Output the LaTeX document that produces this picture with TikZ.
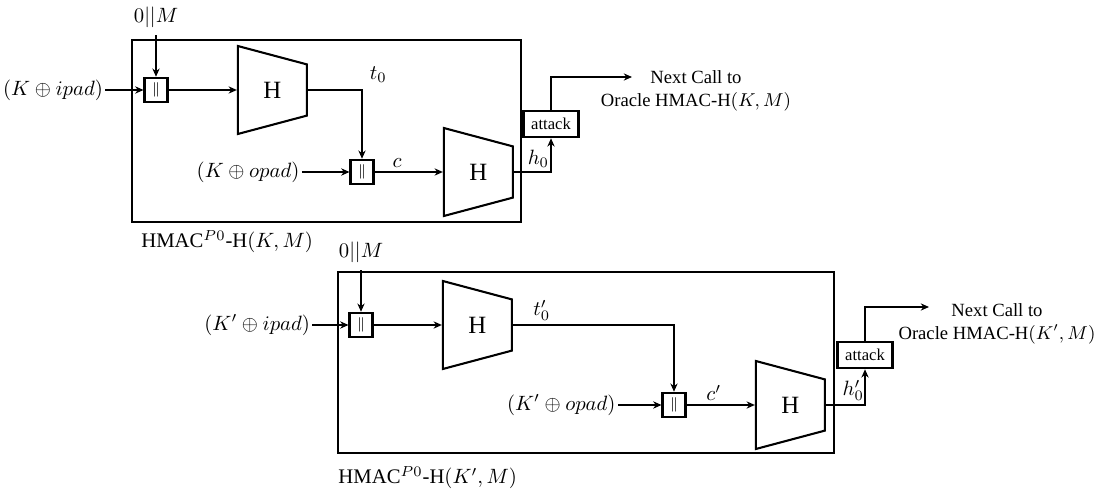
\documentclass[tikz,border=0pt]{standalone}
\usepackage{fontspec}
\setmainfont{Liberation Serif}
\usepackage{amsmath}
\usepackage{tikz}
\usetikzlibrary{
  arrows.meta,
  positioning,
  shapes.geometric
}
\tikzset{
  hashFn/.style={
    trapezium,
    shape border rotate=270,
    trapezium stretches=true,
    trapezium angle=72,
    draw,
    line width=1pt,
    minimum width=42.5pt,
    minimum height=33.3pt,
    inner sep=0pt,
    font=\large
  },
  concatBox/.style={
    rectangle,
    draw,
    very thick,
    minimum width=10.9pt,
    minimum height=11.6pt,
    inner sep=0pt,
    font=\scriptsize
  },
  attackBox/.style={
    rectangle,
    draw,
    very thick,
    minimum width=26.6pt,
    minimum height=12.6pt,
    inner sep=1pt,
    font=\footnotesize
  },
  frameBox/.style={
    rectangle,
    draw,
    line width=1pt
  },
  keyInput/.style={
    inner sep=1pt
  },
  wireLabel/.style={
    inner sep=1.5pt
  },
  flowArrow/.style={
    -{Stealth[length=4pt,width=3.5pt]},
    line width=0.9pt
  }
}

\begin{document}
\begin{tikzpicture}[x=0.483pt, y=-0.483pt, node distance=33pt]
  \useasboundingbox (0,0) rectangle (1101,494);

  % first call
  \node[frameBox, minimum width=187.9pt, minimum height=87.9pt]
    (frame1) at (326.5,131) {};
  \node[concatBox] (cat1) at (156,90) {$\|$};
  \node[hashFn, right=of cat1] (hash1) {H};
  \node[keyInput, left=18.4pt of cat1] (kipad1) {$(K \oplus ipad)$};
  \node[above=20pt of cat1] (msg1) {$0||M$};

  \node[concatBox] (cat2) at (362,172) {$\|$};
  \node[keyInput, left=23pt of cat2] (kopad1) {$(K \oplus opad)$};
  \node[hashFn, right=of cat2] (hash2) {H};

  \node[attackBox] (atk1) at (551,124) {attack};
  \coordinate (out1) at (632,77);
  \node[align=center, font=\small] (next1) at (696,91)
    {Next Call to\\Oracle HMAC-H$(K,M)$};
  \node[below right=0pt and 1.5pt of frame1.south west]
    (name1) {HMAC$^{P0}$-H$(K,M)$};

  \draw[flowArrow] (kipad1) -- (cat1);
  \draw[flowArrow] (msg1) -- (cat1);
  \draw[flowArrow] (cat1) -- (hash1);
  \draw[flowArrow] (hash1) -| node[above right] {$t_0$} (cat2);
  \draw[flowArrow] (kopad1) -- (cat2);
  \draw[flowArrow] (cat2) -- node[wireLabel, above, pos=0.33] {$c$} (hash2);
  \draw[flowArrow] (hash2) -| node[wireLabel, above, pos=0.33] {$h_0$} (atk1);
  \draw[flowArrow] (atk1) |- (out1);

  % second call
  \node[frameBox, minimum width=239.6pt, minimum height=87.4pt]
    (frame2) at (586,362.5) {};
  \node[concatBox] (cat3) at (361,325) {$\|$};
  \node[hashFn, right=of cat3] (hash3) {H};
  \node[keyInput, left=17.4pt of cat3] (kipad2) {$(K' \oplus ipad)$};
  \node[above=20pt of cat3] (msg2) {$0||M$};

  \node[concatBox] (cat4) at (674,405) {$\|$};
  \node[keyInput, left=21pt of cat4] (kopad2) {$(K' \oplus opad)$};
  \node[hashFn, right=of cat4] (hash4) {H};

  \node[attackBox] (atk2) at (865,355) {attack};
  \coordinate (out2) at (929,307);
  \node[align=center, font=\small] (next2) at (997,324)
    {Next Call to\\Oracle HMAC-H$(K',M)$};
  \node[below right=2.4pt and -2.8pt of frame2.south west]
    (name2) {HMAC$^{P0}$-H$(K',M)$};

  \draw[flowArrow] (kipad2) -- (cat3);
  \draw[flowArrow] (msg2) -- (cat3);
  \draw[flowArrow] (cat3) -- (hash3);
  \draw[flowArrow] (hash3) -| node[wireLabel, above, pos=0.09] {$t'_0$} (cat4);
  \draw[flowArrow] (kopad2) -- (cat4);
  \draw[flowArrow] (cat4) -- node[wireLabel, above, pos=0.4] {$c'$} (hash4);
  \draw[flowArrow] (hash4) -| node[wireLabel, above, pos=0.35] {$h'_0$} (atk2);
  \draw[flowArrow] (atk2) |- (out2);
\end{tikzpicture}
\end{document}
